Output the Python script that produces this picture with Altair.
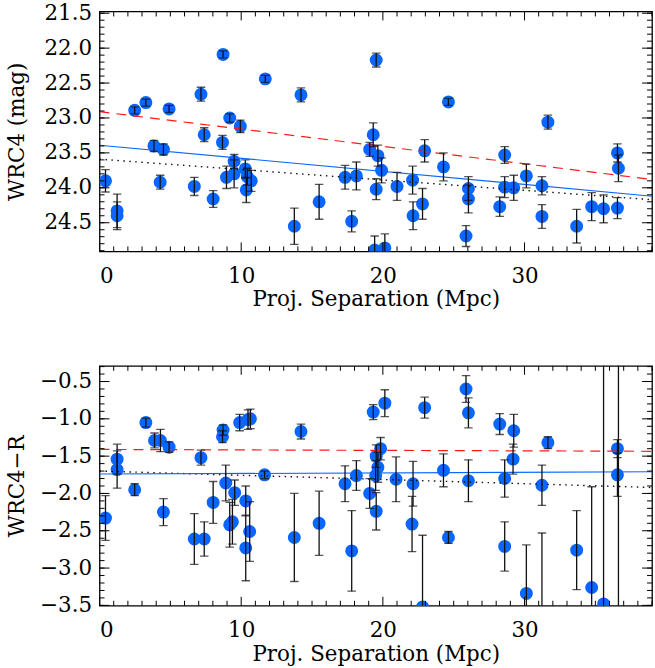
import altair as alt
import pandas as pd

# ---------------- data ----------------
# upper panel: WRC4 magnitude vs projected separation
top_sep = [0.42, 1.24, 1.24, 2.48, 3.27, 3.84, 4.51, 4.28, 4.91, 6.69, 7.16, 7.39, 8.02,
           8.72, 8.68, 9.19, 8.96, 9.50, 9.50, 9.94, 10.29, 10.43, 10.36, 10.71, 11.70,
           14.22, 13.75, 15.50, 17.33, 17.80, 18.13, 19.53, 19.32, 19.07, 19.65, 19.91,
           19.53, 19.42, 20.14, 21.00, 22.10, 22.13, 22.80, 22.95, 24.28, 24.63, 26.04,
           26.04, 25.87, 28.25, 28.60, 28.60, 29.24, 30.13, 31.23, 31.23, 31.65, 33.68,
           34.74, 35.58, 36.56, 36.56, 36.63]
top_mag = [23.90, 24.33, 24.40, 22.89, 22.78, 23.40, 23.45, 23.92, 22.87, 23.98, 22.66,
           23.24, 24.16, 22.09, 23.35, 23.00, 23.85, 23.80, 23.62, 23.12, 23.73, 23.84,
           24.03, 23.90, 22.44, 22.67, 24.55, 24.20, 23.85, 24.48, 23.83, 22.17, 23.24,
           23.45, 23.54, 23.75, 24.02, 24.89, 24.86, 23.98, 23.89, 24.40, 24.23, 23.47,
           23.70, 22.77, 24.01, 24.16, 24.69, 24.27, 23.53, 23.99, 24.00, 23.83, 23.97,
           24.41, 23.06, 24.55, 24.27, 24.30, 24.29, 23.50, 23.72]
top_err = [0.16, 0.24, 0.20, 0.05, 0.05, 0.08, 0.08, 0.10, 0.05, 0.13, 0.10, 0.10, 0.12,
           0.05, 0.10, 0.06, 0.16, 0.20, 0.10, 0.09, 0.13, 0.12, 0.18, 0.15, 0.05, 0.10,
           0.26, 0.25, 0.17, 0.15, 0.20, 0.10, 0.17, 0.10, 0.15, 0.18, 0.15, 0.20, 0.20,
           0.20, 0.20, 0.20, 0.22, 0.16, 0.20, 0.05, 0.17, 0.20, 0.15, 0.14, 0.12, 0.15,
           0.18, 0.17, 0.13, 0.17, 0.10, 0.24, 0.20, 0.20, 0.15, 0.13, 0.19]

# lower panel: WRC4 - R colour vs projected separation
bot_sep = [0.42, 1.24, 1.24, 2.48, 3.27, 3.88, 4.30, 4.91, 4.51, 6.69, 7.16, 7.39, 8.02,
           8.72, 8.68, 8.91, 9.19, 9.38, 9.54, 9.89, 10.32, 10.32, 10.48, 10.65, 10.60,
           11.65, 14.22, 13.75, 15.50, 17.33, 17.80, 18.13, 19.32, 20.14, 19.84, 19.53,
           19.65, 19.49, 19.07, 19.53, 20.93, 22.13, 22.06, 22.95, 22.80, 24.28, 24.63,
           25.87, 26.04, 26.04, 28.25, 28.60, 28.60, 29.24, 29.19, 30.13, 31.23, 31.23,
           31.65, 33.68, 34.74, 35.58, 36.56, 36.56, 36.63]
bot_col = [-2.33, -1.54, -1.68, -1.95, -1.05, -1.29, -1.29, -1.38, -2.25, -2.61, -1.52,
           -2.61, -2.12, -1.15, -1.24, -1.86, -2.42, -2.38, -1.99, -1.05, -2.10, -2.73,
           -1.01, -1.00, -2.51, -1.75, -1.17, -2.59, -2.40, -1.87, -2.77, -1.76, -0.91,
           -0.79, -1.40, -1.50, -1.65, -1.76, -2.00, -2.24, -1.81, -1.87, -2.41, -0.85,
           -3.52, -1.69, -2.59, -0.60, -0.92, -1.83, -1.07, -1.80, -2.71, -1.16, -1.54,
           -3.34, -1.89, -3.80, -1.32, -2.76, -3.26, -3.48, -1.40, -1.75, -4.20]
bot_err = [0.30, 0.20, 0.25, 0.08, 0.06, 0.10, 0.15, 0.07, 0.18, 0.34, 0.10, 0.23, 0.28,
           0.07, 0.08, 0.24, 0.30, 0.30, 0.17, 0.11, 0.20, 0.44, 0.13, 0.13, 0.40, 0.05,
           0.10, 0.59, 0.43, 0.24, 0.54, 0.20, 0.10, 0.18, 0.15, 0.15, 0.20, 0.20, 0.20,
           0.25, 0.30, 0.30, 0.37, 0.14, 0.96, 0.22, 0.08, 0.18, 0.20, 0.28, 0.14, 0.25,
           0.33, 0.22, 0.20, 0.65, 0.27, 1.27, 0.08, 0.53, 1.35, 3.40, 0.12, 0.29, 4.10]

# straight-line fits, evaluated at the two ends of the separation range
fit_x = [0, 39]
top_fit_all = [23.39, 24.12]
top_fit_red = [22.91, 23.88]
top_fit_dot = [23.59, 24.17]
bot_fit_all = [-1.74, -1.71]
bot_fit_red = [-1.41, -1.435]
bot_fit_dot = [-1.70, -1.92]

# tick positions
x_major = [0, 10, 20, 30]
x_minor = [v for v in range(0, 40) if v % 10]
top_major = [21.5, 22.0, 22.5, 23.0, 23.5, 24.0, 24.5]
top_minor = [round(21.5 + 0.1 * i, 1) for i in range(35)]
bot_major = [-0.5, -1.0, -1.5, -2.0, -2.5, -3.0, -3.5]
bot_minor = [round(-3.5 + 0.1 * i, 1) for i in range(33)]

# ---------------- styling ----------------
W, H = 555, 241
BLUE = "#0a66ff"
FONT = "DejaVu Serif"
FS = 21.5
X_DOMAIN = [0, 39]


def panel(sep, val, err, fits, y_domain, y_reverse, y_major, y_minor, y_title):
    df = pd.DataFrame({
        "sep": sep,
        "val": val,
        "lo": [v - e for v, e in zip(val, err)],
        "hi": [v + e for v, e in zip(val, err)],
    })
    xs = alt.Scale(domain=X_DOMAIN, nice=False, zero=False)
    ys = alt.Scale(domain=y_domain, reverse=y_reverse, nice=False, zero=False)

    x_axis = alt.Axis(values=x_major, format="d", title="Proj. Separation (Mpc)",
                      ticks=False, domain=False, grid=False,
                      labelPadding=14, titlePadding=2)
    y_axis = alt.Axis(values=y_major, format=".1f", title=y_title,
                      ticks=False, domain=False, grid=False, labelPadding=8,
                      titleX=-82, titleY=H / 2, titleBaseline="middle",
                      titleAngle=270)

    X = lambda f: alt.X(f, scale=xs, axis=x_axis)
    Y = lambda f: alt.Y(f, scale=ys, axis=y_axis)

    dots = alt.Chart(df).mark_circle(size=170, color=BLUE, opacity=1, clip=True).encode(
        x=X("sep:Q"), y=Y("val:Q"),
    )
    bars = alt.Chart(df).mark_rule(color="#111", strokeWidth=1.3, clip=True).encode(
        x=X("sep:Q"), y=Y("lo:Q"), y2="hi:Q"
    )
    cap_lo = alt.Chart(df).mark_tick(orient="horizontal", size=8.5, thickness=1.3,
                                     color="#111", clip=True).encode(
        x=X("sep:Q"), y=Y("lo:Q")
    )
    cap_hi = alt.Chart(df).mark_tick(orient="horizontal", size=8.5, thickness=1.3,
                                     color="#111", clip=True).encode(
        x=X("sep:Q"), y=Y("hi:Q")
    )

    fdf = pd.DataFrame({"x": fit_x, "all": fits[0], "red": fits[1], "dot": fits[2]})
    line_all = alt.Chart(fdf).mark_line(color=BLUE, strokeWidth=1.1, clip=True).encode(
        x=X("x:Q"), y=Y("all:Q"))
    line_red = alt.Chart(fdf).mark_line(color="#ff1a1a", strokeWidth=1.2,
                                        strokeDash=[10, 7], clip=True).encode(
        x=X("x:Q"), y=Y("red:Q"))
    line_dot = alt.Chart(fdf).mark_line(color="#111", strokeWidth=1.4,
                                        strokeDash=[1.5, 4.5], clip=True).encode(
        x=X("x:Q"), y=Y("dot:Q"))

    # inward ticks on all four sides
    def xticks(vals, length):
        d = pd.DataFrame({"t": vals})
        b = alt.Chart(d).mark_rule(color="black", strokeWidth=1).encode(
            x=X("t:Q"), y=alt.value(H), y2=alt.value(H - length))
        t = alt.Chart(d).mark_rule(color="black", strokeWidth=1).encode(
            x=X("t:Q"), y=alt.value(0), y2=alt.value(length))
        return [b, t]

    def yticks(vals, length):
        d = pd.DataFrame({"t": vals})
        l = alt.Chart(d).mark_rule(color="black", strokeWidth=1).encode(
            y=Y("t:Q"), x=alt.value(0), x2=alt.value(length))
        r = alt.Chart(d).mark_rule(color="black", strokeWidth=1).encode(
            y=Y("t:Q"), x=alt.value(W), x2=alt.value(W - length))
        return [l, r]

    ticks = (xticks(x_major, 9) + xticks(x_minor, 5) +
             yticks(y_major, 10) + yticks(y_minor, 5))

    return alt.layer(dots, line_dot, line_all, line_red, bars, cap_lo, cap_hi,
                     *ticks).properties(width=W, height=H)


top = panel(top_sep, top_mag, top_err, (top_fit_all, top_fit_red, top_fit_dot),
            [21.475, 24.91], True, top_major, top_minor, "WRC4 (mag)")
bottom = panel(bot_sep, bot_col, bot_err, (bot_fit_all, bot_fit_red, bot_fit_dot),
               [-3.505, -0.29], False, bot_major, bot_minor, "WRC4\u2212R")

chart = alt.vconcat(top, bottom, spacing=53).properties(
    padding={"left": 6, "top": 0, "right": 1, "bottom": 0}
).configure(
    font=FONT,
).configure_view(
    stroke="black", strokeWidth=1.3
).configure_axis(
    labelFont=FONT, titleFont=FONT, labelFontSize=FS, titleFontSize=FS,
    labelColor="black", titleColor="black", titleFontWeight="normal",
)

chart.save("out.html", embed_options={"renderer": "svg", "actions": False})
